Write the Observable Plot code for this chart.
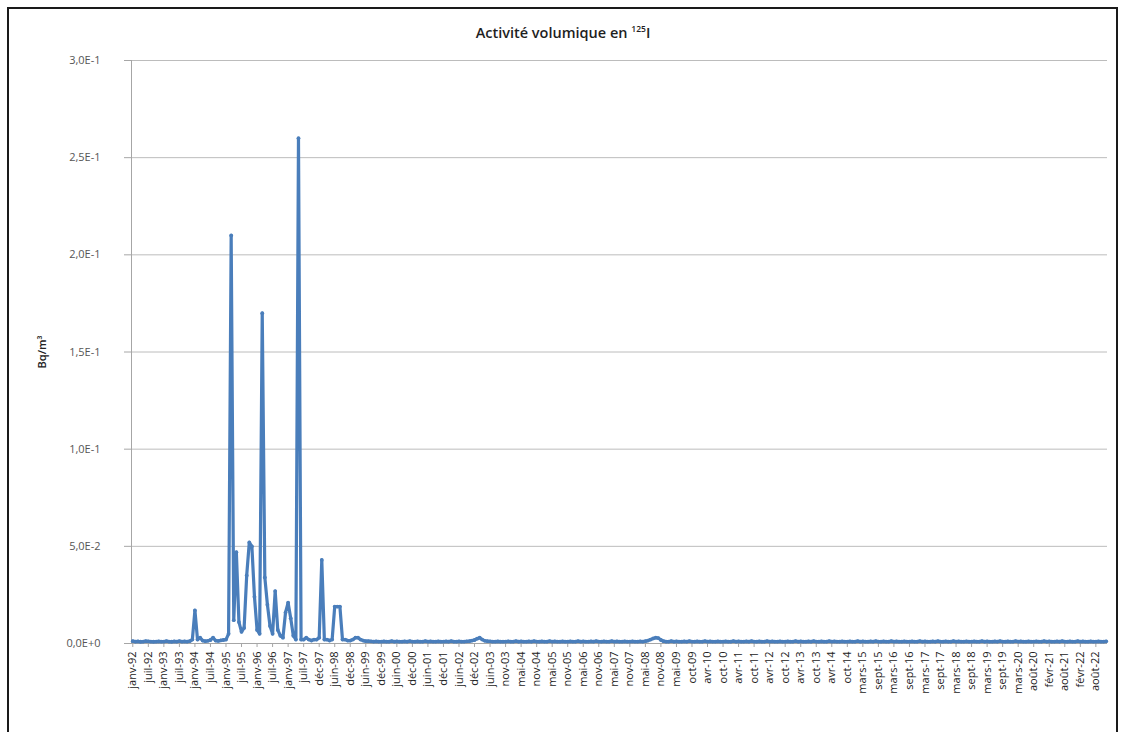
<!DOCTYPE html>
<html>
<head>
<meta charset="utf-8">
<script src="https://cdn.jsdelivr.net/npm/d3@7"></script>
<script src="https://cdn.jsdelivr.net/npm/@observablehq/plot@0.6"></script>
<style>
  body { margin: 0; background: #fff; }
  #wrap { position: relative; width: 1124px; height: 732px; overflow: hidden; background: #fff; }
  #frame { position: absolute; left: 7px; top: 7px; width: 1111px; height: 760px; border: 2px solid #1a1a1a; box-sizing: border-box; pointer-events: none; }
  #title { position: absolute; left: 8px; width: 1110px; top: 23px; text-align: center; font: 600 14.5px "Open Sans", sans-serif; color: #1f1f1f; }
  #title sup { font-size: 8.5px; vertical-align: 6px; line-height: 0; }
  #chart { position: absolute; left: 0; top: 0; }
  #chart g[aria-label="y-axis label"] text { font-weight: 600; fill: #222; }
</style>
</head>
<body>
<div id="wrap">
  <div id="chart"></div>
  <div id="frame"></div>
  <div id="title">Activité volumique en <sup>125</sup>I</div>
</div>
<script>
// Tick labels of the category axis (one every 6 samples)
const xTickLabels = [
  "janv-92","juil-92","janv-93","juil-93","janv-94","juil-94","janv-95","juil-95",
  "janv-96","juil-96","janv-97","juil-97","déc-97","juin-98","déc-98","juin-99",
  "déc-99","juin-00","déc-00","juin-01","déc-01","juin-02","déc-02","juin-03",
  "nov-03","mai-04","nov-04","mai-05","nov-05","mai-06","nov-06","mai-07",
  "nov-07","mai-08","nov-08","mai-09","oct-09","avr-10","oct-10","avr-11",
  "oct-11","avr-12","oct-12","avr-13","oct-13","avr-14","oct-14","mars-15",
  "sept-15","mars-16","sept-16","mars-17","sept-17","mars-18","sept-18","mars-19",
  "sept-19","mars-20","août-20","févr-21","août-21","févr-22","août-22"
];
const xTickStep = 6;

// Y axis ticks (Bq/m3) and their labels
const yTickValues = [0, 0.05, 0.10, 0.15, 0.20, 0.25, 0.30];
const yTickLabels = ["0,0E+0","5,0E-2","1,0E-1","1,5E-1","2,0E-1","2,5E-1","3,0E-1"];

// Activité volumique en 125I (Bq/m3), one value per sample, in order
const values = [
  0.0012,0.0010,0.0011,0.0009,0.0010,0.0012,0.0011,0.0010,0.0009,0.0010,0.0011,0.0010,
  0.0010,0.0012,0.0010,0.0009,0.0011,0.0010,0.0012,0.0010,0.0011,0.0010,0.0012,0.0020,
  0.0170,0.0020,0.0030,0.0015,0.0012,0.0014,0.0018,0.0030,0.0015,0.0013,0.0016,0.0018,
  0.0020,0.0050,0.2100,0.0120,0.0470,0.0110,0.0060,0.0080,0.0350,0.0520,0.0500,0.0240,
  0.0070,0.0050,0.1700,0.0340,0.0200,0.0090,0.0050,0.0270,0.0070,0.0040,0.0030,0.0160,
  0.0210,0.0130,0.0040,0.0020,0.2600,0.0020,0.0020,0.0030,0.0020,0.0015,0.0020,0.0020,
  0.0030,0.0430,0.0020,0.0020,0.0015,0.0020,0.0190,0.0190,0.0190,0.0020,0.0020,0.0015,
  0.0015,0.0020,0.0030,0.0030,0.0020,0.0015,0.0012,0.0012,0.0011,0.0010,0.0011,0.0010,
  0.0010,0.0011,0.0010,0.0010,0.0012,0.0010,0.0011,0.0010,0.0010,0.0011,0.0010,0.0012,
  0.0010,0.0010,0.0011,0.0010,0.0010,0.0012,0.0010,0.0011,0.0010,0.0010,0.0011,0.0010,
  0.0010,0.0011,0.0010,0.0012,0.0010,0.0010,0.0011,0.0010,0.0010,0.0011,0.0012,0.0015,
  0.0018,0.0025,0.0030,0.0020,0.0014,0.0012,0.0011,0.0010,0.0010,0.0011,0.0010,0.0010,
  0.0010,0.0011,0.0010,0.0010,0.0012,0.0010,0.0011,0.0010,0.0010,0.0011,0.0010,0.0012,
  0.0010,0.0010,0.0011,0.0010,0.0010,0.0012,0.0010,0.0011,0.0010,0.0010,0.0011,0.0010,
  0.0010,0.0011,0.0010,0.0010,0.0012,0.0010,0.0011,0.0010,0.0010,0.0011,0.0010,0.0012,
  0.0010,0.0010,0.0011,0.0010,0.0010,0.0012,0.0010,0.0011,0.0010,0.0010,0.0011,0.0010,
  0.0010,0.0011,0.0010,0.0010,0.0011,0.0010,0.0012,0.0015,0.0020,0.0026,0.0030,0.0028,
  0.0018,0.0012,0.0010,0.0010,0.0012,0.0010,0.0011,0.0010,0.0010,0.0011,0.0010,0.0012,
  0.0010,0.0010,0.0011,0.0010,0.0010,0.0012,0.0010,0.0011,0.0010,0.0010,0.0011,0.0010,
  0.0010,0.0011,0.0010,0.0010,0.0012,0.0010,0.0011,0.0010,0.0010,0.0011,0.0010,0.0012,
  0.0010,0.0010,0.0011,0.0010,0.0010,0.0012,0.0010,0.0011,0.0010,0.0010,0.0011,0.0010,
  0.0010,0.0011,0.0010,0.0010,0.0012,0.0010,0.0011,0.0010,0.0010,0.0011,0.0010,0.0012,
  0.0010,0.0010,0.0011,0.0010,0.0010,0.0012,0.0010,0.0011,0.0010,0.0010,0.0011,0.0010,
  0.0010,0.0011,0.0010,0.0010,0.0012,0.0010,0.0011,0.0010,0.0010,0.0011,0.0010,0.0012,
  0.0010,0.0010,0.0011,0.0010,0.0010,0.0012,0.0010,0.0011,0.0010,0.0010,0.0011,0.0010,
  0.0010,0.0011,0.0010,0.0010,0.0012,0.0010,0.0011,0.0010,0.0010,0.0011,0.0010,0.0012,
  0.0010,0.0010,0.0011,0.0010,0.0010,0.0012,0.0010,0.0011,0.0010,0.0010,0.0011,0.0010,
  0.0010,0.0011,0.0010,0.0010,0.0012,0.0010,0.0011,0.0010,0.0010,0.0011,0.0010,0.0012,
  0.0010,0.0010,0.0011,0.0010,0.0010,0.0012,0.0010,0.0011,0.0010,0.0010,0.0011,0.0010,
  0.0010,0.0011,0.0010,0.0010,0.0012,0.0010,0.0011,0.0010,0.0010,0.0011,0.0010,0.0012,
  0.0010,0.0010,0.0011,0.0010,0.0010,0.0012,0.0010,0.0011,0.0010,0.0010,0.0011,0.0010,
  0.0010,0.0011,0.0010,0.0010,0.0011
];

const yLabel = "Bq/m³";
const lineColor = "#4A7EBB";

const data = values.map((v, i) => ({ i, v }));
const xTicks = xTickLabels.map((_, k) => k * xTickStep);

const chart = Plot.plot({
  width: 1124,
  height: 732,
  marginLeft: 131,
  marginRight: 17,
  marginTop: 60,
  marginBottom: 89,
  style: { fontFamily: '"Open Sans", sans-serif', fontSize: "11px", color: "#404040", background: "transparent" },
  x: { domain: [-0.5, values.length - 0.5] },
  y: { domain: [0, 0.3] },
  marks: [
    Plot.gridY(yTickValues.slice(1), { stroke: "#bcbcbc", strokeOpacity: 1, strokeWidth: 1 }),
    Plot.axisY(yTickValues, {
      tickFormat: (d, i) => yTickLabels[i],
      tickSize: 7, tickPadding: 24, stroke: "#a6a6a6", fill: "#555",
      label: yLabel, labelAnchor: "center", labelArrow: "none", labelOffset: 93
    }),
    Plot.axisX(xTicks, {
      tickFormat: d => xTickLabels[d / xTickStep],
      tickRotate: -90, tickSize: 4, tickPadding: 4, stroke: "#a6a6a6", fill: "#222", label: null,
      fontSize: 11
    }),
    Plot.ruleX([-0.5], { stroke: "#a6a6a6" }),
    Plot.ruleY([0], { stroke: "#a6a6a6" }),
    Plot.line(data, { x: "i", y: "v", stroke: lineColor, strokeWidth: 3.2, strokeLinejoin: "round", strokeLinecap: "round" }),
    Plot.dot(data, { x: "i", y: "v", r: 1.9, fill: lineColor, stroke: "none" })
  ]
});
document.getElementById("chart").appendChild(chart);
</script>
</body>
</html>
